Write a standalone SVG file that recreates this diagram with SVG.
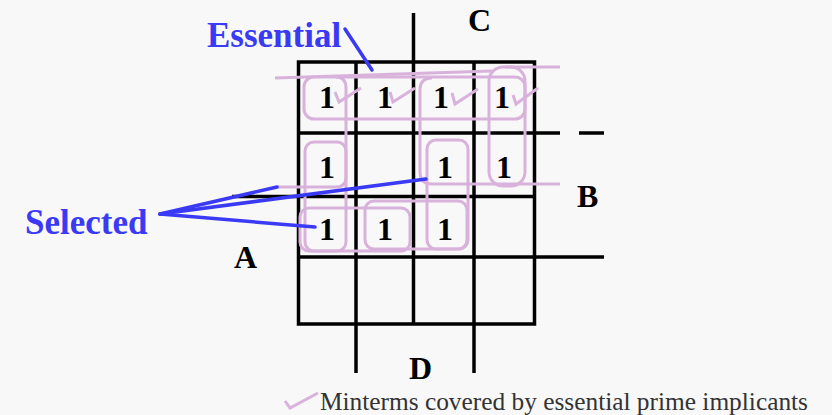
<svg xmlns="http://www.w3.org/2000/svg" width="832" height="415" viewBox="0 0 832 415">
<style>
.grid{stroke:#000;stroke-width:3.5;fill:none;stroke-linecap:butt}
.pk{stroke:#d9b2dc;stroke-width:3;fill:none}
.blue{stroke:#3a3af5;stroke-width:3.5;fill:none;stroke-linecap:round}
.one{font-family:"Liberation Serif","Times New Roman",serif;font-weight:bold;font-size:32px;fill:#000;text-anchor:middle}
.lab{font-family:"Liberation Serif","Times New Roman",serif;font-weight:bold;font-size:32px;fill:#000}
.call{font-family:"Liberation Serif","Times New Roman",serif;font-weight:bold;font-size:35px;fill:#3a3af5}
.leg{font-family:"Liberation Serif","Times New Roman",serif;font-size:25px;fill:#333}
</style>
<rect x="0" y="0" width="832" height="415" fill="#f8f8f8"/>
<g id="kmap-grid">
<rect class="grid" x="298.5" y="62" width="236" height="262"/>
<line class="grid" x1="356" y1="62" x2="356" y2="373"/>
<line class="grid" x1="413.5" y1="13" x2="413.5" y2="324"/>
<line class="grid" x1="474" y1="62" x2="474" y2="373"/>
<line class="grid" x1="298.5" y1="133" x2="560" y2="133"/>
<line class="grid" x1="579" y1="133" x2="604" y2="133"/>
<line class="grid" x1="232" y1="196.5" x2="534.5" y2="196.5"/>
<line class="grid" x1="298.5" y1="257" x2="604" y2="257"/>
</g>
<g id="labels">
<text class="lab" x="468" y="31">C</text>
<text class="lab" x="577" y="207">B</text>
<text class="lab" x="234" y="268">A</text>
<text class="lab" x="409" y="379">D</text>
</g>
<g id="groups">
<line class="pk" x1="275" y1="78" x2="492" y2="71"/>
<rect class="pk" x="304" y="77" width="221" height="42" rx="10"/>
<path class="pk" d="M277 187 L336 187 Q346 187 346 177 L346 88 Q346 77 336 77"/>
<rect class="pk" x="305" y="142" width="41" height="109" rx="9"/>
<rect class="pk" x="300" y="208" width="110" height="43" rx="9"/>
<rect class="pk" x="365" y="201" width="102" height="48" rx="9"/>
<rect class="pk" x="427" y="140" width="41" height="109" rx="9"/>
<path class="pk" d="M432 78 Q420 78 420 90 L420 172 Q420 184 432 184 L560 184"/>
<rect class="pk" x="489" y="67" width="36" height="119" rx="14"/>
<line class="pk" x1="505" y1="67" x2="560" y2="67"/>
</g>
<g id="cells">
<text class="one" x="327" y="108">1</text>
<text class="one" x="385" y="108">1</text>
<text class="one" x="441" y="108">1</text>
<text class="one" x="502" y="108">1</text>
<text class="one" x="327" y="178">1</text>
<text class="one" x="445" y="178">1</text>
<text class="one" x="504" y="178">1</text>
<text class="one" x="327" y="240">1</text>
<text class="one" x="385" y="240">1</text>
<text class="one" x="445" y="240">1</text>
</g>
<g id="checks" class="pk" stroke-width="2.5">
<path class="pk" stroke-width="2.5" d="M335 92 L339 102 L361 88"/>
<path class="pk" stroke-width="2.5" d="M390 92 L393 102 L415 88"/>
<path class="pk" stroke-width="2.5" d="M452 93 L455 104 L478 89"/>
<path class="pk" stroke-width="2.5" d="M513 95 L516 104 L538 88"/>
</g>
<g id="essential">
<text class="call" x="207" y="47">Essential</text>
<line class="blue" x1="345" y1="29" x2="372" y2="70"/>
</g>
<g id="selected">
<text class="call" x="25" y="234">Selected</text>
<line class="blue" x1="160" y1="214" x2="277" y2="187"/>
<line class="blue" x1="160" y1="214" x2="426" y2="179"/>
<line class="blue" x1="160" y1="214" x2="315" y2="227"/>
</g>
<g id="legend">
<path class="pk" stroke-width="2.5" d="M285 401 L290 408 L318 393"/>
<text class="leg" x="320" y="410" textLength="488" lengthAdjust="spacingAndGlyphs">Minterms covered by essential prime implicants</text>
</g>
</svg>
